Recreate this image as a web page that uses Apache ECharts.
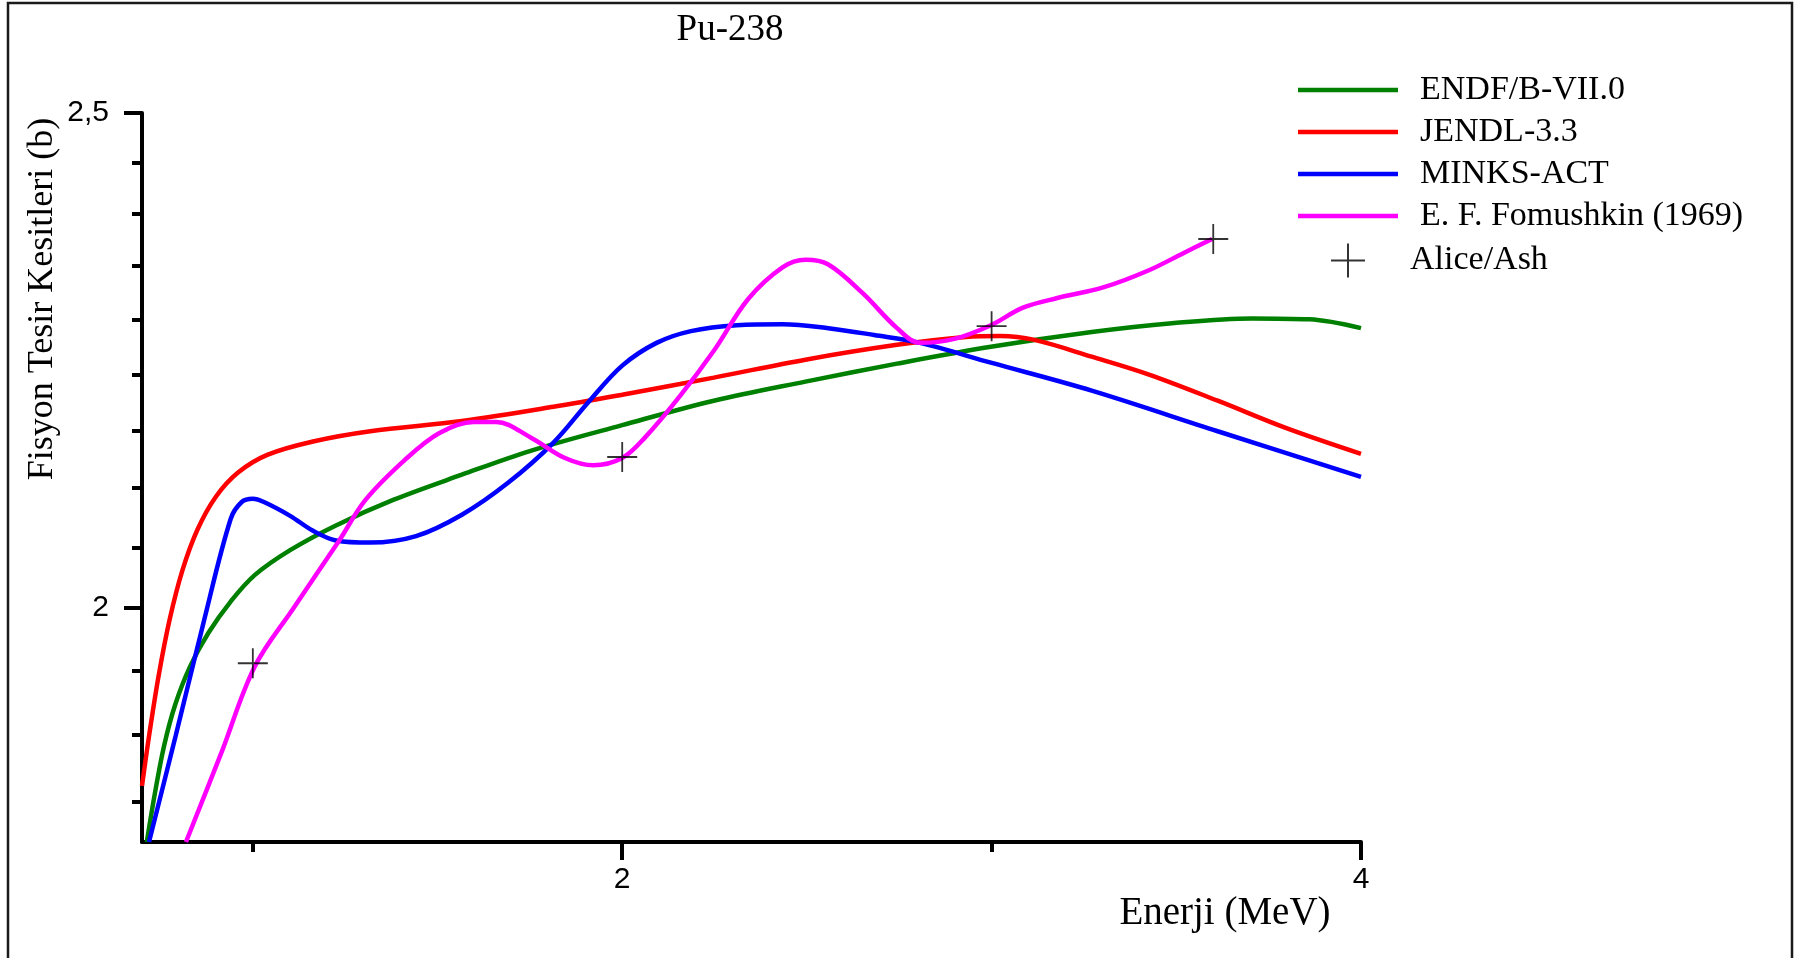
<!DOCTYPE html>
<html>
<head>
<meta charset="utf-8">
<script src="https://cdn.jsdelivr.net/npm/echarts@6/dist/echarts.min.js"></script>
<style>
html,body{margin:0;padding:0;background:#fff;}
#chart{width:1803px;height:958px;}
</style>
</head>
<body>
<div id="chart"></div>
<script>
// ---- data (energy in MeV, cross section in barn) ----
const endfEnergy   = [0.713,0.735,0.760,0.790,0.830,0.880,0.940,1.005,1.101,1.225,1.380,1.566,1.752,2.0,2.248,2.496,2.744,2.998,3.271,3.488,3.705,3.860,4.0];
const endfSigma    = [1.800,1.840,1.880,1.915,1.948,1.978,2.006,2.030,2.053,2.076,2.100,2.124,2.147,2.172,2.196,2.215,2.233,2.250,2.265,2.274,2.279,2.278,2.269];

const jendlEnergy  = [0.700,0.720,0.745,0.775,0.810,0.850,0.900,0.960,1.039,1.163,1.318,1.566,1.814,2.0,2.248,2.496,2.744,2.930,3.023,3.116,3.271,3.426,3.612,3.798,4.0];
const jendlSigma   = [1.846,1.890,1.940,1.990,2.035,2.072,2.103,2.126,2.143,2.156,2.166,2.176,2.190,2.202,2.219,2.237,2.252,2.260,2.261,2.257,2.240,2.222,2.196,2.169,2.144];

const minksEnergy  = [0.719,0.791,0.868,0.940,0.970,1.000,1.030,1.101,1.163,1.225,1.318,1.442,1.566,1.690,1.814,1.907,2.0,2.093,2.186,2.310,2.434,2.558,2.682,2.806,2.998,3.271,3.612,4.0];
const minksSigma   = [1.800,1.888,1.989,2.082,2.098,2.101,2.098,2.085,2.071,2.062,2.060,2.066,2.086,2.116,2.155,2.194,2.231,2.254,2.266,2.272,2.273,2.269,2.262,2.254,2.234,2.206,2.166,2.122];

const fomEnergy    = [0.819,0.915,1.005,1.110,1.234,1.305,1.411,1.504,1.597,1.659,1.752,1.845,1.922,2.0,2.062,2.155,2.248,2.341,2.434,2.496,2.558,2.651,2.744,2.806,2.899,2.998,3.085,3.178,3.302,3.426,3.519,3.597];
const fomSigma     = [1.800,1.874,1.948,2.000,2.062,2.100,2.138,2.164,2.175,2.175,2.160,2.140,2.133,2.140,2.160,2.200,2.246,2.299,2.332,2.340,2.335,2.305,2.269,2.254,2.258,2.272,2.290,2.300,2.311,2.329,2.347,2.362];

const aliceEnergy  = [1.0, 2.0, 3.0, 3.6];
const aliceSigma   = [1.951, 2.141, 2.271, 2.362];

const xMajorTicks  = [2, 4];
const xMinorTicks  = [1, 3];
const yMajorTicks  = [2, 2.5];
const yMinorTicks  = [1.8333, 1.8889, 1.9444, 2.0556, 2.1111, 2.1667, 2.2222, 2.2778, 2.3333, 2.3889, 2.4444];

const seriesNames  = ['ENDF/B-VII.0', 'JENDL-3.3', 'MINKS-ACT', 'E. F. Fomushkin (1969)', 'Alice/Ash'];
const seriesColors = ['#008000', '#ff0000', '#0000ff', '#ff00ff', '#000000'];

// ---- build ----
function pairs(xs, ys) { return xs.map((x, i) => [x, ys[i]]); }
const SERIF = '"Liberation Serif", "Times New Roman", serif';
const SANS = '"Liberation Sans", Arial, sans-serif';
const LINE_ICON = 'path://M0,0L100,0L100,4.5L0,4.5Z';
const CROSS = 'path://M0,10L20,10M10,0L10,20';

function lineSeries(idx, xs, ys) {
  return {
    name: seriesNames[idx], type: 'line', data: pairs(xs, ys),
    smooth: 0.35, symbol: 'none', clip: true,
    lineStyle: { color: seriesColors[idx], width: 4.5 },
    itemStyle: { color: seriesColors[idx] },
    emphasis: { disabled: true }
  };
}

const chart = echarts.init(document.getElementById('chart'), null, { renderer: 'canvas' });
chart.setOption({
  animation: false,
  backgroundColor: '#ffffff',
  title: {
    text: 'Pu-238', left: 730, top: 12, textAlign: 'center', padding: 0,
    textStyle: { fontFamily: SERIF, fontSize: 37, fontWeight: 'normal', color: '#000' }
  },
  grid: { left: 142, right: 442, top: 113, bottom: 116, containLabel: false },
  legend: {
    orient: 'vertical', left: 1293, top: 68, itemGap: 8,
    itemWidth: 100, itemHeight: 34, symbolKeepAspect: true,
    textStyle: { fontFamily: SERIF, fontSize: 34, color: '#000', padding: [0, 0, 0, 17] },
    data: [
      { name: seriesNames[0], icon: LINE_ICON },
      { name: seriesNames[1], icon: LINE_ICON },
      { name: seriesNames[2], icon: LINE_ICON },
      { name: seriesNames[3], icon: LINE_ICON },
      { name: seriesNames[4], icon: CROSS, textStyle: { padding: [0, 0, 0, 7] } }
    ],
    selectedMode: false
  },
  xAxis: [
    {
      type: 'value', min: 0.7, max: 4, position: 'bottom',
      axisLine: { show: true, onZero: false, lineStyle: { color: '#000', width: 4 } },
      axisTick: { show: true, customValues: xMajorTicks, length: 18, lineStyle: { color: '#000', width: 4 } },
      axisLabel: { customValues: xMajorTicks, margin: 23, fontFamily: SANS, fontSize: 30, color: '#000' },
      splitLine: { show: false }
    },
    {
      type: 'value', min: 0.7, max: 4, position: 'bottom', offset: 0,
      axisLine: { show: false, onZero: false },
      axisTick: { show: true, customValues: xMinorTicks, length: 10, lineStyle: { color: '#000', width: 4 } },
      axisLabel: { show: false },
      splitLine: { show: false }
    }
  ],
  yAxis: [
    {
      type: 'log', logBase: 10, min: 1.8, max: 2.5, position: 'left', offset: 0,
      axisLine: { show: true, onZero: false, lineStyle: { color: '#000', width: 4 } },
      axisTick: { show: true, customValues: yMajorTicks, length: 18, lineStyle: { color: '#000', width: 4 } },
      axisLabel: {
        customValues: yMajorTicks, margin: 33, fontFamily: SANS, fontSize: 30, color: '#000',
        formatter: v => String(Math.round(v * 100) / 100).replace('.', ',')
      },
      splitLine: { show: false }, minorTick: { show: false }
    },
    {
      type: 'log', logBase: 10, min: 1.8, max: 2.5, position: 'left', offset: 0,
      axisLine: { show: false, onZero: false },
      axisTick: { show: true, customValues: yMinorTicks, length: 10, lineStyle: { color: '#000', width: 4 } },
      axisLabel: { show: false },
      splitLine: { show: false }
    }
  ],
  graphic: [
    { type: 'rect', shape: { x: 8, y: 3, width: 1784, height: 1100 }, style: { fill: 'none', stroke: '#1a1a1a', lineWidth: 2.5 }, silent: true, z: -1 },
    { type: 'text', x: 43, y: 299, rotation: Math.PI / 2,
      style: { text: 'Fisyon Tesir Kesitleri (b)', font: '36px ' + SERIF, fill: '#000', textAlign: 'center', textVerticalAlign: 'middle' }, silent: true },
    { type: 'text', x: 1225, y: 914,
      style: { text: 'Enerji (MeV)', font: '39px ' + SERIF, fill: '#000', textAlign: 'center', textVerticalAlign: 'middle' }, silent: true }
  ],
  series: [
    lineSeries(0, endfEnergy, endfSigma),
    lineSeries(1, jendlEnergy, jendlSigma),
    lineSeries(2, minksEnergy, minksSigma),
    lineSeries(3, fomEnergy, fomSigma),
    {
      name: seriesNames[4], type: 'scatter', data: pairs(aliceEnergy, aliceSigma),
      symbol: CROSS, symbolSize: 30, symbolKeepAspect: true,
      itemStyle: { color: 'none', borderColor: '#000', borderWidth: 1.8 },
      emphasis: { disabled: true }, z: 5
    }
  ]
});
</script>
</body>
</html>
